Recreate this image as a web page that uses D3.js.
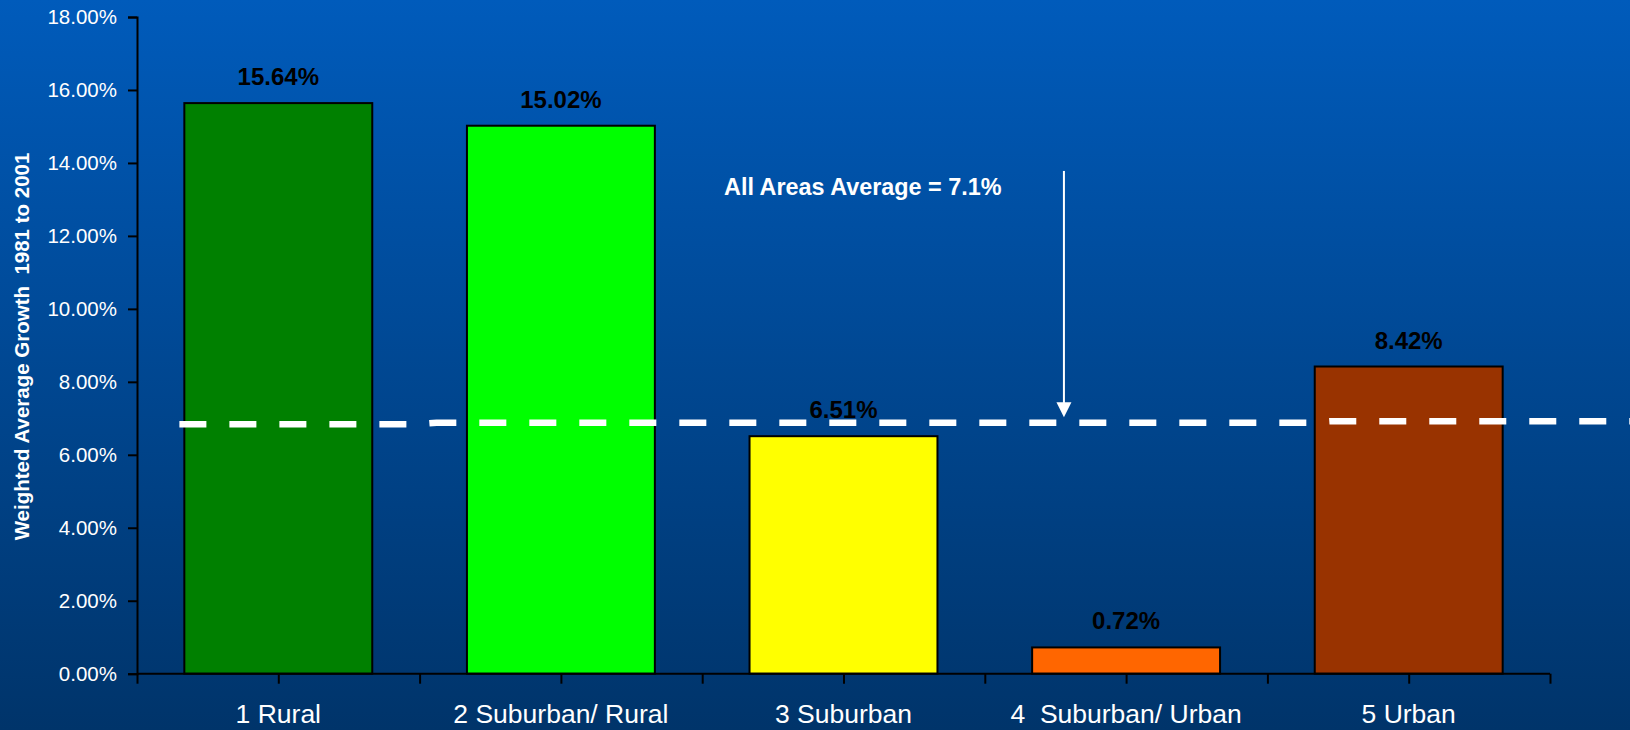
<!DOCTYPE html>
<html>
<head>
<meta charset="utf-8">
<script src="https://cdn.jsdelivr.net/npm/d3@7"></script>
<style>
  html, body { margin: 0; padding: 0; background: #00356b; }
  svg { display: block; }
  text { font-family: "Liberation Sans", Arial, sans-serif; }
</style>
</head>
<body>
<svg id="chart" width="1630" height="730"></svg>
<script>
// ---- data ----
const categories = ["1 Rural", "2 Suburban/ Rural", "3 Suburban", "4  Suburban/ Urban", "5 Urban"];
const values = [15.64, 15.02, 6.51, 0.72, 8.42];
const barColors = ["#008000", "#00ff00", "#ffff00", "#ff6600", "#993300"];
const yTicks = [0, 2, 4, 6, 8, 10, 12, 14, 16, 18];
const yTitle = "Weighted Average Growth  1981 to 2001";
const annotationText = "All Areas Average = 7.1%";
// hand-drawn average line (x in category units, y in %)
const avgLineX = [0.15, 1.0, 1.06, 4.15, 4.22, 5.29];
const avgLineY = [6.84, 6.84, 6.88, 6.88, 6.92, 6.92];
// arrow (x in category units, y from/to in %)
const arrowX = 3.28;
const arrowFrom = 13.78;
const arrowTo = 7.03;

// ---- layout ----
(function () {
const W = 1630, H = 730;
const mLeft = 137, mRight = 1550, mTop = 17, mBottom = 673.7;
const svg = d3.select("#chart");

const defs = svg.append("defs");
const grad = defs.append("linearGradient").attr("id", "bg").attr("x1", 0).attr("y1", 0).attr("x2", 0).attr("y2", 1);
grad.append("stop").attr("offset", "0%").attr("stop-color", "#005bbb");
grad.append("stop").attr("offset", "100%").attr("stop-color", "#00346a");
svg.append("rect").attr("width", W).attr("height", H).attr("fill", "url(#bg)");

const x = d3.scaleBand().domain(categories).range([mLeft, mRight]).paddingInner(0.335).paddingOuter(0.1675);
const xc = d3.scaleLinear().domain([0, categories.length]).range([mLeft, mRight]);
const y = d3.scaleLinear().domain([0, 18]).range([mBottom, mTop]);

// bars
svg.append("g").selectAll("rect").data(values).join("rect")
  .attr("x", (d, i) => x(categories[i]))
  .attr("y", d => y(d))
  .attr("width", x.bandwidth())
  .attr("height", d => y(0) - y(d))
  .attr("fill", (d, i) => barColors[i])
  .attr("stroke", "#000")
  .attr("stroke-width", 2);

// value labels
svg.append("g").selectAll("text").data(values).join("text")
  .attr("x", (d, i) => x(categories[i]) + x.bandwidth() / 2)
  .attr("y", d => y(d) - 18)
  .attr("text-anchor", "middle")
  .attr("font-size", 24)
  .attr("font-weight", "bold")
  .attr("fill", "#000")
  .text(d => d.toFixed(2) + "%");

// y axis
const yAxis = d3.axisLeft(y).tickValues(yTicks).tickSize(9).tickPadding(11)
  .tickFormat(d => d.toFixed(2) + "%");
const gy = svg.append("g").attr("transform", `translate(${mLeft},0)`).call(yAxis);
gy.select(".domain").attr("stroke", "#000").attr("stroke-width", 2);
gy.selectAll(".tick line").attr("stroke", "#000").attr("stroke-width", 2);
gy.selectAll(".tick text").attr("fill", "#fff").attr("font-size", 20.5)
  .attr("font-family", "Liberation Sans, Arial, sans-serif");

// x axis: ticks at category boundaries and centers
const xTickVals = d3.range(0, categories.length + 0.01, 0.5);
const xAxisLine = d3.axisBottom(xc).tickValues(xTickVals).tickSize(10).tickFormat("");
const gx = svg.append("g").attr("transform", `translate(0,${mBottom})`).call(xAxisLine);
gx.select(".domain").attr("stroke", "#000").attr("stroke-width", 2).attr("d", `M${mLeft},0H${mRight}`);
gx.selectAll(".tick line").attr("stroke", "#000").attr("stroke-width", 2);

// x labels
svg.append("g").selectAll("text").data(categories).join("text")
  .attr("x", d => x(d) + x.bandwidth() / 2)
  .attr("y", 723)
  .attr("text-anchor", "middle")
  .attr("font-size", 26.5)
  .attr("fill", "#fff")
  .style("white-space", "pre")
  .text(d => d);

// y title
svg.append("text")
  .attr("transform", `translate(29,${(150 + 543) / 2}) rotate(-90)`)
  .attr("text-anchor", "middle")
  .attr("font-size", 20.5)
  .attr("font-weight", "bold")
  .attr("fill", "#fff")
  .style("white-space", "pre")
  .text(yTitle);

// average dashed line
const line = d3.line().x(d => xc(d[0])).y(d => y(d[1]));
svg.append("path")
  .datum(avgLineX.map((v, i) => [v, avgLineY[i]]))
  .attr("d", line)
  .attr("fill", "none")
  .attr("stroke", "#fff")
  .attr("stroke-width", 6.5)
  .attr("stroke-dasharray", "27,23");

// arrow
const ax = xc(arrowX);
const tipY = y(arrowTo);
svg.append("line")
  .attr("x1", ax).attr("x2", ax)
  .attr("y1", y(arrowFrom)).attr("y2", tipY - 12)
  .attr("stroke", "#fff").attr("stroke-width", 2);
svg.append("path")
  .attr("d", `M${ax - 7.5},${tipY - 15}L${ax + 7.5},${tipY - 15}L${ax},${tipY}Z`)
  .attr("fill", "#fff");

// annotation
svg.append("text")
  .attr("x", 724).attr("y", 195)
  .attr("font-size", 23.4)
  .attr("font-weight", "bold")
  .attr("fill", "#fff")
  .text(annotationText);
})();
</script>
</body>
</html>
